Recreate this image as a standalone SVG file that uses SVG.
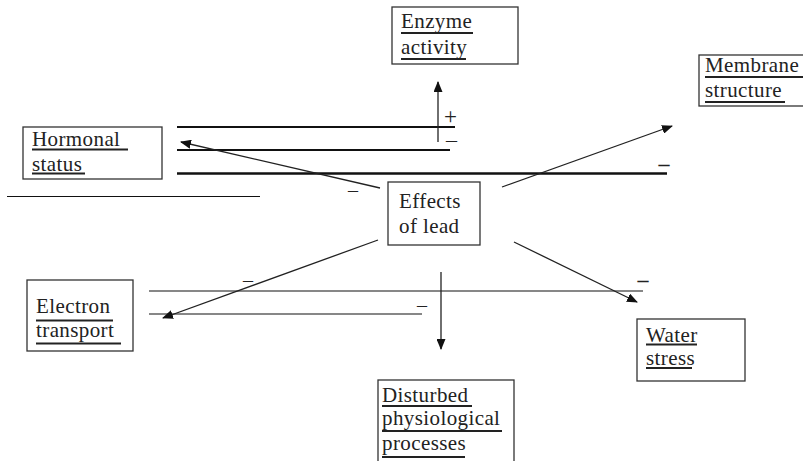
<svg xmlns="http://www.w3.org/2000/svg" width="803" height="461" viewBox="0 0 803 461">
<style>
.box{fill:#fff;stroke:#333;stroke-width:1.3}
.t{font-family:'Liberation Serif','DejaVu Serif',serif;font-size:21px;fill:#222;letter-spacing:0.4px}
.u{stroke:#222;stroke-width:1.8}
.c{stroke:#222;stroke-width:1.3;fill:none}
.h{stroke:#111;fill:none}
.s{font-family:'Liberation Serif','DejaVu Serif',serif;fill:#222}
</style>
<defs>
<marker id="ah" markerUnits="userSpaceOnUse" markerWidth="11" markerHeight="9" refX="10" refY="4.5" orient="auto">
<path d="M0,0 L11,4.5 L0,9 z" fill="#111"/>
</marker>
</defs>
<rect width="803" height="461" fill="#fff"/>
<g id="connectors">
<line class="h" x1="177" y1="127" x2="455" y2="127" stroke-width="2.2"/>
<line class="h" x1="177" y1="150" x2="450" y2="150" stroke-width="2.2"/>
<line class="h" x1="177" y1="173.5" x2="667" y2="173.5" stroke-width="2.5"/>
<line class="h" x1="7" y1="196.5" x2="260" y2="196.5" stroke-width="1.1"/>
<line class="h" x1="149" y1="291" x2="643" y2="291" stroke-width="1.2"/>
<line class="h" x1="149" y1="314" x2="422" y2="314" stroke-width="1.2"/>
<line class="c" x1="438" y1="142" x2="438" y2="82" marker-end="url(#ah)"/>
<line class="c" x1="441" y1="272" x2="441" y2="349" marker-end="url(#ah)"/>
<line class="c" x1="380" y1="188" x2="181" y2="142" marker-end="url(#ah)"/>
<line class="c" x1="502" y1="187" x2="672" y2="126" marker-end="url(#ah)"/>
<line class="c" x1="378" y1="240" x2="163" y2="318" marker-end="url(#ah)"/>
<line class="c" x1="514" y1="242" x2="637" y2="302" marker-end="url(#ah)"/>
<text class="s" x="450.5" y="124" font-size="23" text-anchor="middle">+</text>
<text class="s" x="451.5" y="147" font-size="22" text-anchor="middle">–</text>
<text class="s" x="353" y="197" font-size="20" text-anchor="middle">–</text>
<text class="s" x="664" y="171" font-size="22" font-weight="bold" text-anchor="middle">–</text>
<text class="s" x="248" y="287" font-size="20" text-anchor="middle">–</text>
<text class="s" x="422" y="312" font-size="20" text-anchor="middle">–</text>
<text class="s" x="643" y="287" font-size="22" font-weight="bold" text-anchor="middle">–</text>
</g>
<g id="enzyme">
<rect class="box" x="392" y="7" width="126" height="57"/>
<text class="t" x="401" y="28">Enzyme</text>
<text class="t" x="401" y="54">activity</text>
<line class="u" x1="401" y1="33" x2="473" y2="33"/>
<line class="u" x1="401" y1="59" x2="466" y2="59"/>
</g>
<g id="membrane">
<rect class="box" x="699" y="55" width="120" height="51"/>
<text class="t" x="705" y="72">Membrane</text>
<text class="t" x="705" y="97">structure</text>
<line class="u" x1="705" y1="77" x2="803" y2="77"/>
<line class="u" x1="705" y1="102" x2="785" y2="102"/>
</g>
<g id="hormonal">
<rect class="box" x="23" y="127" width="139" height="52"/>
<text class="t" x="32" y="146">Hormonal</text>
<text class="t" x="32" y="171">status</text>
<line class="u" x1="32" y1="149.5" x2="128" y2="149.5"/>
<line class="u" x1="32" y1="173.5" x2="85" y2="173.5"/>
</g>
<g id="effects">
<rect class="box" x="388" y="182" width="92" height="63"/>
<text class="t" x="399" y="208">Effects</text>
<text class="t" x="399" y="233">of lead</text>
</g>
<g id="electron">
<rect class="box" x="27" y="280" width="106" height="71"/>
<text class="t" x="36" y="313">Electron</text>
<text class="t" x="36" y="337">transport</text>
<line class="u" x1="36" y1="320.5" x2="113" y2="320.5"/>
<line class="u" x1="36" y1="343.5" x2="121" y2="343.5"/>
</g>
<g id="water">
<rect class="box" x="637" y="319" width="108" height="62"/>
<text class="t" x="646" y="342">Water</text>
<text class="t" x="646" y="365">stress</text>
<line class="u" x1="646" y1="344.5" x2="697" y2="344.5"/>
<line class="u" x1="646" y1="368" x2="692" y2="368"/>
</g>
<g id="disturbed">
<rect class="box" x="378" y="380" width="136" height="90"/>
<text class="t" x="382" y="402">Disturbed</text>
<text class="t" x="382" y="425">physiological</text>
<text class="t" x="382" y="450">processes</text>
<line class="u" x1="382" y1="406" x2="472" y2="406"/>
<line class="u" x1="382" y1="431" x2="502" y2="431"/>
<line class="u" x1="382" y1="457" x2="465" y2="457"/>
</g>
</svg>
